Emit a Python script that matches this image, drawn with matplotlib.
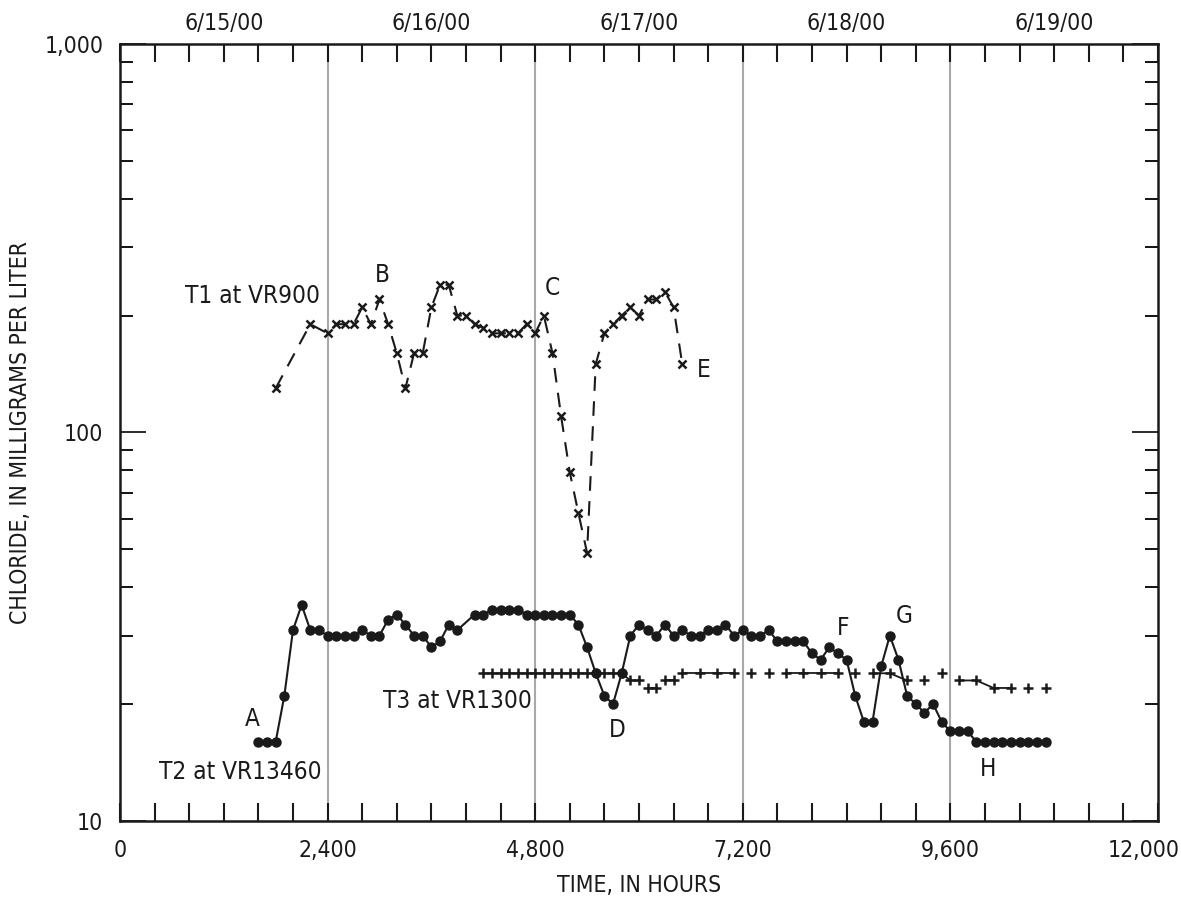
import numpy as np
import matplotlib.pyplot as plt
from matplotlib.ticker import FixedLocator, LogLocator, NullFormatter, FuncFormatter
from matplotlib import font_manager

# pick a narrow font if one is installed
names = set(f.name for f in font_manager.fontManager.ttflist)
if 'Liberation Sans Narrow' in names:
    plt.rcParams['font.family'] = ['Liberation Sans Narrow', 'DejaVu Sans']
else:
    plt.rcParams['font.family'] = ['DejaVu Sans']
    plt.rcParams['font.stretch'] = 'condensed'

# T1 at VR900
t1_x = [1800, 2200, 2400, 2500, 2600, 2700, 2800, 2900, 3000, 3100, 3200, 3300, 3400, 3500,
        3600, 3700, 3800, 3900, 4000, 4100, 4200, 4300, 4400, 4500, 4600, 4700, 4800, 4900,
        5000, 5100, 5200, 5300, 5400, 5500, 5600, 5700, 5800, 5900, 6000, 6100, 6200, 6300,
        6400, 6500]
t1_y = [130, 190, 180, 190, 190, 190, 210, 190, 220, 190, 160, 130, 160, 160,
        210, 240, 240, 200, 200, 190, 186, 180, 180, 180, 180, 190, 180, 200,
        160, 110, 79, 62, 49, 150, 180, 190, 200, 210, 200, 220, 220, 230,
        210, 150]

# T2 at VR13460
t2_x = [1600, 1700, 1800, 1900, 2000, 2100, 2200, 2300, 2400, 2500, 2600, 2700, 2800, 2900,
        3000, 3100, 3200, 3300, 3400, 3500, 3600, 3700, 3800, 3900, 4100, 4200, 4300, 4400,
        4500, 4600, 4700, 4800, 4900, 5000, 5100, 5200, 5300, 5400, 5500, 5600, 5700, 5800,
        5900, 6000, 6100, 6200, 6300, 6400, 6500, 6600, 6700, 6800, 6900, 7000, 7100, 7200,
        7300, 7400, 7500, 7600, 7700, 7800, 7900, 8000, 8100, 8200, 8300, 8400, 8500, 8600,
        8700, 8800, 8900, 9000, 9100, 9200, 9300, 9400, 9500, 9600, 9700, 9800, 9900, 10000,
        10100, 10200, 10300, 10400, 10500, 10600, 10700]
t2_y = [16, 16, 16, 21, 31, 36, 31, 31, 30, 30, 30, 30, 31, 30,
        30, 33, 34, 32, 30, 30, 28, 29, 32, 31, 34, 34, 35, 35,
        35, 35, 34, 34, 34, 34, 34, 34, 32, 28, 24, 21, 20, 24,
        30, 32, 31, 30, 32, 30, 31, 30, 30, 31, 31, 32, 30, 31,
        30, 30, 31, 29, 29, 29, 29, 27, 26, 28, 27, 26, 21, 18,
        18, 25, 30, 26, 21, 20, 19, 20, 18, 17, 17, 17, 16, 16,
        16, 16, 16, 16, 16, 16, 16]

# T3 at VR1300, grp = which points are joined by a line
t3_x = [4200, 4300, 4400, 4500, 4600, 4700, 4800, 4900, 5000, 5100, 5200, 5300, 5400, 5500,
        5600, 5700, 5800, 5900, 6000, 6100, 6200, 6300, 6400, 6500, 6700, 6900, 7100, 7300,
        7500, 7700, 7900, 8100, 8300, 8500, 8700, 8900, 9100, 9300, 9500, 9700, 9900, 10100,
        10300, 10500, 10700]
t3_y = [24, 24, 24, 24, 24, 24, 24, 24, 24, 24, 24, 24, 24, 24,
        24, 24, 24, 23, 23, 22, 22, 23, 23, 24, 24, 24, 24, 24,
        24, 24, 24, 24, 24, 24, 24, 24, 23, 23, 24, 23, 23, 22,
        22, 22, 22]
t3_grp = [0, 0, 0, 0, 0, 0, 0, 0, 0, 0, 0, 0, 0, 0,
          0, 0, 0, 0, 0, 1, 1, 2, 2, 3, 3, 3, 3, 4,
          5, 6, 6, 6, 6, 7, 8, 8, 8, 9, 10, 11, 11, 11,
          11, 12, 13]

days = ['6/15/00', '6/16/00', '6/17/00', '6/18/00', '6/19/00']
day_mid = [1200, 3600, 6000, 8400, 10800]
day_lines = [2400, 4800, 7200, 9600]
x_ticks = [0, 2400, 4800, 7200, 9600, 12000]

# (text, x, y, ha)
notes = [('T1 at VR900', 2310, 225, 'right'), ('B', 3030, 254, 'center'),
         ('C', 4995, 235, 'center'), ('E', 6750, 145, 'center'),
         ('A', 1525, 18.3, 'center'), ('T2 at VR13460', 2335, 13.4, 'right'),
         ('T3 at VR1300', 4765, 20.4, 'right'), ('D', 5745, 17.1, 'center'),
         ('F', 8360, 31.3, 'center'), ('G', 9065, 33.8, 'center'),
         ('H', 10035, 13.6, 'center')]

fs = 16.5
ink = '#1a1a1a'

fig = plt.figure(figsize=(11.81, 9.11), dpi=100)
ax = fig.add_axes([0.1016, 0.0988, 0.8789, 0.8529])

for d in day_lines:
    ax.axvline(d, color='#a8a8a8', lw=1.5, zorder=1)

ax.plot(t1_x, t1_y, color=ink, lw=1.5, ls=(0, (7, 5)), marker='x', ms=6, mew=1.8, zorder=3)
ax.plot(t2_x, t2_y, color=ink, lw=1.5, marker='o', ms=6.5, zorder=3)

t3_x = np.array(t3_x)
t3_y = np.array(t3_y)
t3_grp = np.array(t3_grp)
for g in np.unique(t3_grp):
    m = t3_grp == g
    ax.plot(t3_x[m], t3_y[m], color=ink, lw=1.3, marker='+', ms=7, mew=1.8, zorder=3)

for txt, x, y, ha in notes:
    ax.text(x, y, txt, ha=ha, va='center', fontsize=fs + 1, color=ink)

ax.set_yscale('log')
ax.set_xlim(0, 12000)
ax.set_ylim(10, 1000)
ax.xaxis.set_major_locator(FixedLocator(x_ticks))
ax.xaxis.set_minor_locator(FixedLocator(np.arange(0, 12001, 400)))
# last label is drawn by hand so that it stays inside the picture
ax.xaxis.set_major_formatter(FuncFormatter(lambda v, p: '' if v >= x_ticks[-1] else f'{int(v):,}'))
ax.yaxis.set_major_locator(FixedLocator([10, 100, 1000]))
ax.yaxis.set_minor_locator(LogLocator(base=10, subs=np.arange(2, 10)))
ax.yaxis.set_major_formatter(FuncFormatter(lambda v, p: f'{int(v):,}'))
ax.yaxis.set_minor_formatter(NullFormatter())

ax.tick_params(axis='x', which='both', direction='in', top=True, length=13, width=1.5,
               labelsize=fs, pad=13, colors=ink)
ax.tick_params(axis='y', which='major', direction='in', right=True, length=19, width=1.3,
               labelsize=fs, pad=12, colors=ink)
ax.tick_params(axis='y', which='minor', direction='in', right=True, length=9.5, width=1.3)

ax.annotate(f'{x_ticks[-1]:,}', xy=(x_ticks[-1], 0), xycoords=('data', 'axes fraction'),
            xytext=(-10, -13), textcoords='offset points', ha='center', va='top',
            fontsize=fs, color=ink)

for s in ax.spines.values():
    s.set_linewidth(1.8)
    s.set_color(ink)

for lab, x in zip(days, day_mid):
    ax.text(x, 1.012, lab, transform=ax.get_xaxis_transform(), ha='center', va='bottom',
            fontsize=fs, color=ink)

ax.set_xlabel('TIME, IN HOURS', fontsize=fs, color=ink)
ax.xaxis.set_label_coords(0.5, -0.068)
fig.text(21 / 1181, 0.525, 'CHLORIDE, IN MILLIGRAMS PER LITER', rotation=90,
         ha='center', va='center', fontsize=fs, color=ink)

fig.savefig('out.png', dpi=100)
